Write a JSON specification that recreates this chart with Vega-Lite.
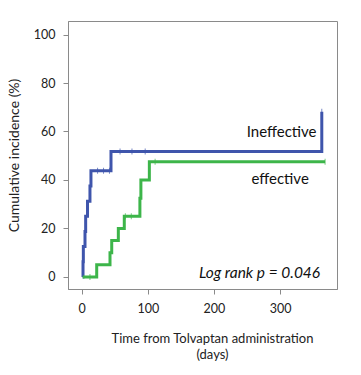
{
  "$schema": "https://vega.github.io/schema/vega-lite/v6.json",
  "autosize": {"type": "none"},
  "padding": {"left": 68, "top": 21, "right": 24, "bottom": 86},
  "width": 269,
  "height": 268,
  "background": "white",
  "config": {
    "view": {"stroke": "#8a8a8a", "strokeWidth": 1},
    "font": "Lato",
    "axis": {"grid": false, "domainColor": "#8a8a8a", "tickColor": "#8a8a8a", "labelColor": "#222", "titleColor": "#222", "labelFont": "Lato", "titleFont": "Lato", "titleFontWeight": "normal", "labelFontSize": 12.5, "titleFontSize": 13}
  },
  "datasets": {
    "curves": [
      {"group": "Ineffective", "day": 1.5, "pct": 0},
      {"group": "Ineffective", "day": 2, "pct": 6.25},
      {"group": "Ineffective", "day": 2.5, "pct": 12.5},
      {"group": "Ineffective", "day": 5, "pct": 18.75},
      {"group": "Ineffective", "day": 6, "pct": 25},
      {"group": "Ineffective", "day": 8.8, "pct": 31.25},
      {"group": "Ineffective", "day": 12.5, "pct": 37.5},
      {"group": "Ineffective", "day": 14, "pct": 43.75},
      {"group": "Ineffective", "day": 44.3, "pct": 51.7},
      {"group": "Ineffective", "day": 363, "pct": 68.2},
      {"group": "effective", "day": 1.5, "pct": 0},
      {"group": "effective", "day": 22.7, "pct": 5},
      {"group": "effective", "day": 42.8, "pct": 10},
      {"group": "effective", "day": 45.4, "pct": 15},
      {"group": "effective", "day": 55.4, "pct": 20},
      {"group": "effective", "day": 64.4, "pct": 25},
      {"group": "effective", "day": 88, "pct": 32.5},
      {"group": "effective", "day": 89.5, "pct": 40},
      {"group": "effective", "day": 102.3, "pct": 47.5},
      {"group": "effective", "day": 368, "pct": 47.5}
    ],
    "censored": [
      {"group": "Ineffective", "day": 24, "pct": 43.75},
      {"group": "Ineffective", "day": 33, "pct": 43.75},
      {"group": "Ineffective", "day": 42, "pct": 43.75},
      {"group": "Ineffective", "day": 58, "pct": 51.7},
      {"group": "Ineffective", "day": 76, "pct": 51.7},
      {"group": "Ineffective", "day": 96, "pct": 51.7},
      {"group": "Ineffective", "day": 363, "pct": 68.2},
      {"group": "effective", "day": 12.5, "pct": 0},
      {"group": "effective", "day": 66, "pct": 25},
      {"group": "effective", "day": 75, "pct": 25},
      {"group": "effective", "day": 111, "pct": 47.5},
      {"group": "effective", "day": 368, "pct": 47.5}
    ],
    "labelRight": [
      {"text": "Ineffective", "day": 355, "pct": 59.6}
    ],
    "labelCenter": [
      {"text": "effective", "day": 300, "pct": 40.4}
    ],
    "stat": [
      {"text": "Log rank p = 0.046", "day": 360.5, "pct": 1.7}
    ]
  },
  "encoding": {
    "x": {"field": "day", "type": "quantitative", "scale": {"domain": [-20.7, 386], "nice": false, "zero": false},
      "axis": {"values": [0, 100, 200, 300], "tickSize": 5, "labelPadding": 8, "title": ["Time from Tolvaptan administration", "(days)"], "titleLineHeight": 16, "titlePadding": 18, "titleX": 144}},
    "y": {"field": "pct", "type": "quantitative", "scale": {"domain": [-5, 105.6], "nice": false, "zero": false},
      "axis": {"values": [0, 20, 40, 60, 80, 100], "tickSize": 5, "labelPadding": 8, "title": "Cumulative incidence (%)", "titlePadding": 12, "titleFontSize": 14}}
  },
  "layer": [
    {
      "data": {"name": "curves"},
      "mark": {"type": "line", "interpolate": "step-after", "strokeWidth": 3},
      "encoding": {
        "color": {"field": "group", "type": "nominal", "scale": {"domain": ["Ineffective", "effective"], "range": ["#3F55AC", "#3DB54A"]}, "legend": null}
      }
    },
    {
      "data": {"name": "censored"},
      "mark": {"type": "tick", "orient": "vertical", "size": 6, "thickness": 1},
      "encoding": {
        "color": {"field": "group", "type": "nominal", "scale": {"domain": ["Ineffective", "effective"], "range": ["#3F55AC", "#3DB54A"]}, "legend": null}
      }
    },
    {
      "data": {"name": "labelRight"},
      "mark": {"type": "text", "font": "Lato", "fontSize": 15, "color": "#111", "align": "right", "baseline": "middle"},
      "encoding": {"text": {"field": "text"}}
    },
    {
      "data": {"name": "labelCenter"},
      "mark": {"type": "text", "font": "Lato", "fontSize": 15, "color": "#111", "align": "center", "baseline": "middle"},
      "encoding": {"text": {"field": "text"}}
    },
    {
      "data": {"name": "stat"},
      "mark": {"type": "text", "font": "Lato", "fontSize": 15.5, "fontStyle": "italic", "color": "#111", "align": "right", "baseline": "middle"},
      "encoding": {"text": {"field": "text"}}
    }
  ]
}
